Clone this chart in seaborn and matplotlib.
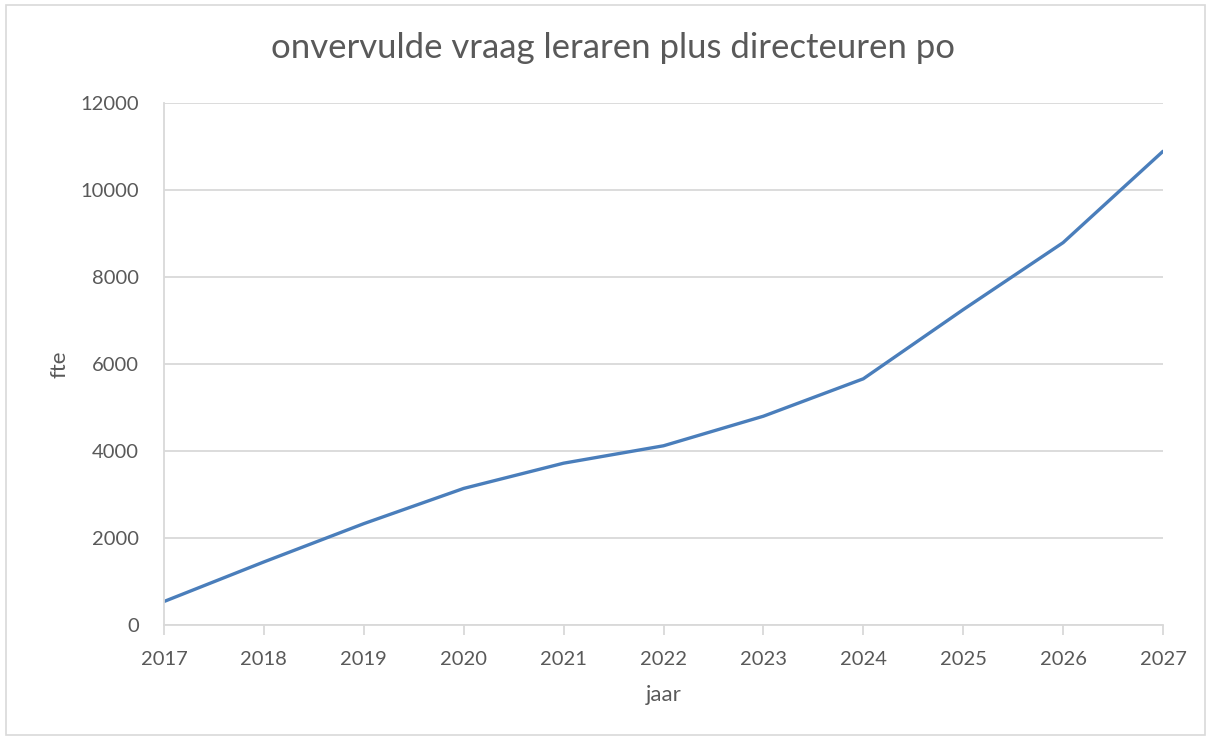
import pandas as pd
import seaborn as sns
import matplotlib.pyplot as plt
from matplotlib.patches import Rectangle

# data
jaren = [2017, 2018, 2019, 2020, 2021, 2022, 2023, 2024, 2025, 2026, 2027]
fte = [540, 1450, 2330, 3140, 3720, 4120, 4800, 5660, 7250, 8790, 10890]

df = pd.DataFrame({'jaar': jaren, 'fte': fte})

sns.set_theme(style='white')
plt.rcParams['font.family'] = ['Lato', 'DejaVu Sans']
tekst = '#595959'
grijs = '#D9D9D9'

fig = plt.figure(figsize=(12.13, 7.40), dpi=100)
ax = fig.add_axes([164 / 1213, 1 - 625 / 740, (1163 - 164) / 1213, (625 - 103) / 740])

sns.lineplot(data=df, x='jaar', y='fte', ax=ax, color='#4A7EBB', linewidth=2.4)

ax.set_xlim(2017, 2027)
ax.set_ylim(0, 12000)
ax.set_xticks(jaren)
ax.set_yticks(range(0, 12001, 2000))
ax.yaxis.grid(True, color=grijs, linewidth=1.3)
ax.set_axisbelow(True)

for s in ['top', 'right']:
    ax.spines[s].set_visible(False)
for s in ['left', 'bottom']:
    ax.spines[s].set_color(grijs)
    ax.spines[s].set_linewidth(1.3)

ax.tick_params(axis='x', which='major', bottom=True, length=7, width=1.3,
               color=grijs, labelsize=14.5, labelcolor=tekst, pad=12)
ax.tick_params(axis='y', left=False, labelsize=14.5, labelcolor=tekst, pad=12)

ax.set_xlabel('jaar', fontsize=16, color=tekst, labelpad=12)
ax.set_ylabel('fte', fontsize=16, color=tekst, labelpad=8)

fig.text(0.505, 1 - 48 / 740, 'onvervulde vraag leraren plus directeuren po',
         ha='center', va='center', fontsize=25, color=tekst)

# rand om de grafiek
fig.patches.append(Rectangle((6 / 1213, 5 / 740), 1199 / 1213, 730 / 740,
                             transform=fig.transFigure, fill=False,
                             edgecolor=grijs, linewidth=1.2))

fig.savefig('out.png', dpi=100)
